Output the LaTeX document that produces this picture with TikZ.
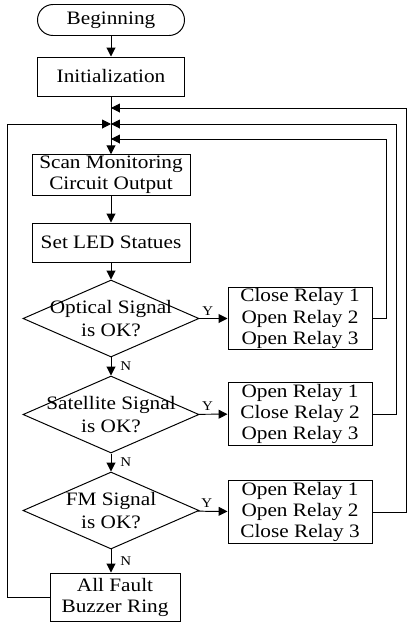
\documentclass[tikz,border=0pt]{standalone}
\usepackage{fontspec}
\setmainfont{Liberation Serif}[FakeStretch=1.12]
\usetikzlibrary{arrows.meta, positioning, shapes.geometric}
\newcommand{\boxfont}{\fontsize{13.5}{15}\selectfont}
\tikzset{
  block/.style={rectangle, draw, line width=0.7pt, align=center, font=\boxfont, inner sep=1pt},
  startstop/.style={block, rounded corners=0.3875cm, minimum width=3.675cm, minimum height=0.775cm},
  relay/.style={block, minimum width=3.6cm, minimum height=1.425cm},
  decision/.style={diamond, draw, line width=0.7pt, minimum width=4.4cm, minimum height=1.925cm, inner sep=0pt},
  dtext/.style={align=center, font=\fontsize{13.5}{16.5}\selectfont, inner sep=0pt},
  arrow/.style={-{Triangle[length=2.2mm, width=2.2mm]}, line width=0.7pt},
  yn/.style={font=\fontsize{9.5}{10}\selectfont, inner sep=2pt},
}

\begin{document}
\begin{tikzpicture}
\useasboundingbox (0,0) rectangle (10.225,-15.55);

% main column
\node[startstop] (begin) at (2.775,-0.5) {Beginning};
\node[block, minimum width=3.675cm, minimum height=0.975cm] (init) at (2.775,-1.9125) {Initialization};
\node[block, minimum width=3.95cm, minimum height=1cm] (scan) at (2.775,-4.375) {Scan Monitoring\\Circuit Output};
\node[block, minimum width=3.95cm, minimum height=0.975cm] (led) at (2.775,-6.0625) {Set LED Statues};

% decisions
\node[decision] (opt) at (2.775,-7.9625) {};
\node[dtext] (optT) at (opt) {Optical Signal\\is OK?};
\node[decision] (sat) at (2.775,-10.3625) {};
\node[dtext] (satT) at (sat) {Satellite Signal\\is OK?};
\node[decision] (fm) at (2.775,-12.7625) {};
\node[dtext] (fmT) at (fm) {FM Signal\\is OK?};

% relay settings
\node[relay] (rel1) at (7.5,-7.9625) {Close Relay 1\\Open Relay 2\\Open Relay 3};
\node[relay] (rel2) at (7.5,-10.35) {Open Relay 1\\Close Relay 2\\Open Relay 3};
\node[relay] (rel3) at (7.5,-12.8) {Open Relay 1\\Open Relay 2\\Close Relay 3};

\node[block, minimum width=3.25cm, minimum height=1.2cm] (buzz) at (2.875,-14.925) {All Fault\\Buzzer Ring};

% merge points on the main line
\coordinate (m1) at (2.775,-2.7);
\coordinate (m2) at (2.775,-3.1);
\coordinate (m3) at (2.775,-3.475);

\draw[arrow] (begin) -- (init);
\draw[arrow] (init) -- (scan);
\draw[arrow] (scan) -- (led);
\draw[arrow] (led) -- (opt);
\draw[arrow] (opt) -- node[yn, right, xshift=0.15cm] {N} (sat);
\draw[arrow] (sat) -- node[yn, right, xshift=0.15cm] {N} (fm);
\draw[arrow] (fm.south) -- node[yn, right, xshift=0.15cm] {N} (fm.south |- buzz.north);

\draw[arrow] (opt) -- node[yn, above, pos=0.3] {Y} (rel1);
\draw[arrow] (sat) -- node[yn, above, pos=0.3] {Y} (rel2);
\draw[arrow] (fm) -- node[yn, above, pos=0.3] {Y} (rel3);

% loops back to the scan
\draw[arrow] (rel1.east) -- ++(0.35,0) |- (m3);
\draw[arrow] (rel2.east) -- ++(0.6,0) |- (m2);
\draw[arrow] (rel3.east) -- ++(0.85,0) |- (m1);
\draw[arrow] (buzz.west) -- ++(-1.05,0) |- (m2);
\end{tikzpicture}
\end{document}
